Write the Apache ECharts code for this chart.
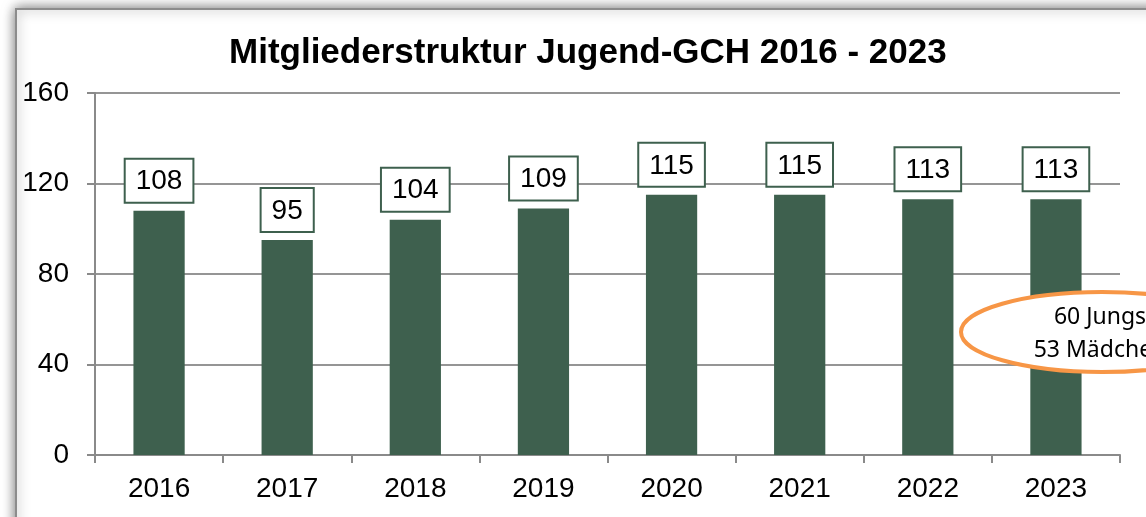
<!DOCTYPE html>
<html>
<head>
<meta charset="utf-8">
<script src="https://cdn.jsdelivr.net/npm/echarts@6/dist/echarts.min.js"></script>
<style>
  html, body { margin: 0; padding: 0; background: #fff; }
  #chart { width: 1146px; height: 517px; }
</style>
</head>
<body>
<div id="chart"></div>
<script>
// Daten
const years = ['2016', '2017', '2018', '2019', '2020', '2021', '2022', '2023']
const members = [108, 95, 104, 109, 115, 115, 113, 113]
const yTicks = [0, 40, 80, 120, 160]
const noteLines = ['60 Jungs', '53 Mädchen']

const barColor = '#3e604e'
const gridColor = '#959595'

const chart = echarts.init(document.getElementById('chart'))

const option = {
  animation: false,
  title: {
    text: 'Mitgliederstruktur Jugend-GCH 2016 - 2023',
    left: 224,
    top: 31,
    textStyle: {
      fontFamily: 'Liberation Sans, Arial',
      fontSize: 35,
      fontWeight: 'bold',
      color: '#000'
    }
  },
  grid: {
    left: 95,
    right: 26,
    top: 93,
    bottom: 62,
    containLabel: false
  },
  xAxis: {
    type: 'category',
    data: years,
    axisLine: { lineStyle: { color: '#8a8a8a', width: 2 } },
    axisTick: { show: true, length: 8, lineStyle: { color: '#8a8a8a', width: 2 } },
    axisLabel: {
      margin: 20,
      fontFamily: 'Liberation Sans, Arial',
      fontSize: 28,
      color: '#000'
    }
  },
  yAxis: {
    type: 'value',
    min: yTicks[0],
    max: yTicks[yTicks.length - 1],
    interval: 40,
    axisLine: { show: true, lineStyle: { color: '#8a8a8a', width: 2 } },
    axisTick: { show: true, length: 8, lineStyle: { color: '#8a8a8a', width: 2 } },
    splitLine: { lineStyle: { color: gridColor, width: 2 } },
    axisLabel: {
      margin: 26,
      fontFamily: 'Liberation Sans, Arial',
      fontSize: 28,
      color: '#000'
    }
  },
  series: [
    {
      type: 'bar',
      data: members,
      barWidth: '40%',
      itemStyle: { color: barColor },
      label: {
        show: true,
        position: 'top',
        distance: 9,
        fontFamily: 'Liberation Sans, Arial',
        fontSize: 28,
        lineHeight: 30,
        color: '#000',
        backgroundColor: '#fff',
        borderColor: barColor,
        borderWidth: 2,
        padding: [7, 10, 5, 10]
      }
    }
  ],
  graphic: [
    // Rahmen mit Schatten
    {
      type: 'rect',
      z: -10,
      shape: { x: 16, y: 9, width: 1200, height: 600 },
      style: {
        fill: '#fff',
        stroke: '#8c8c8c',
        lineWidth: 2,
        shadowBlur: 12,
        shadowColor: 'rgba(0,0,0,0.55)'
      },
      silent: true
    },
    // Hinweis-Oval
    {
      type: 'ellipse',
      z: 100,
      shape: { cx: 1102, cy: 332, rx: 141, ry: 40 },
      style: { fill: '#fff', stroke: '#f79646', lineWidth: 4 }
    },
    {
      type: 'text',
      z: 101,
      x: 1100,
      y: 317,
      style: {
        text: noteLines[0],
        align: 'center',
        verticalAlign: 'middle',
        fontFamily: 'Noto Sans',
        fontSize: 23,
        fill: '#000'
      }
    },
    {
      type: 'text',
      z: 101,
      x: 1100,
      y: 350,
      style: {
        text: noteLines[1],
        align: 'center',
        verticalAlign: 'middle',
        fontFamily: 'Noto Sans',
        fontSize: 23,
        fill: '#000'
      }
    }
  ]
}

chart.setOption(option)
</script>
</body>
</html>
